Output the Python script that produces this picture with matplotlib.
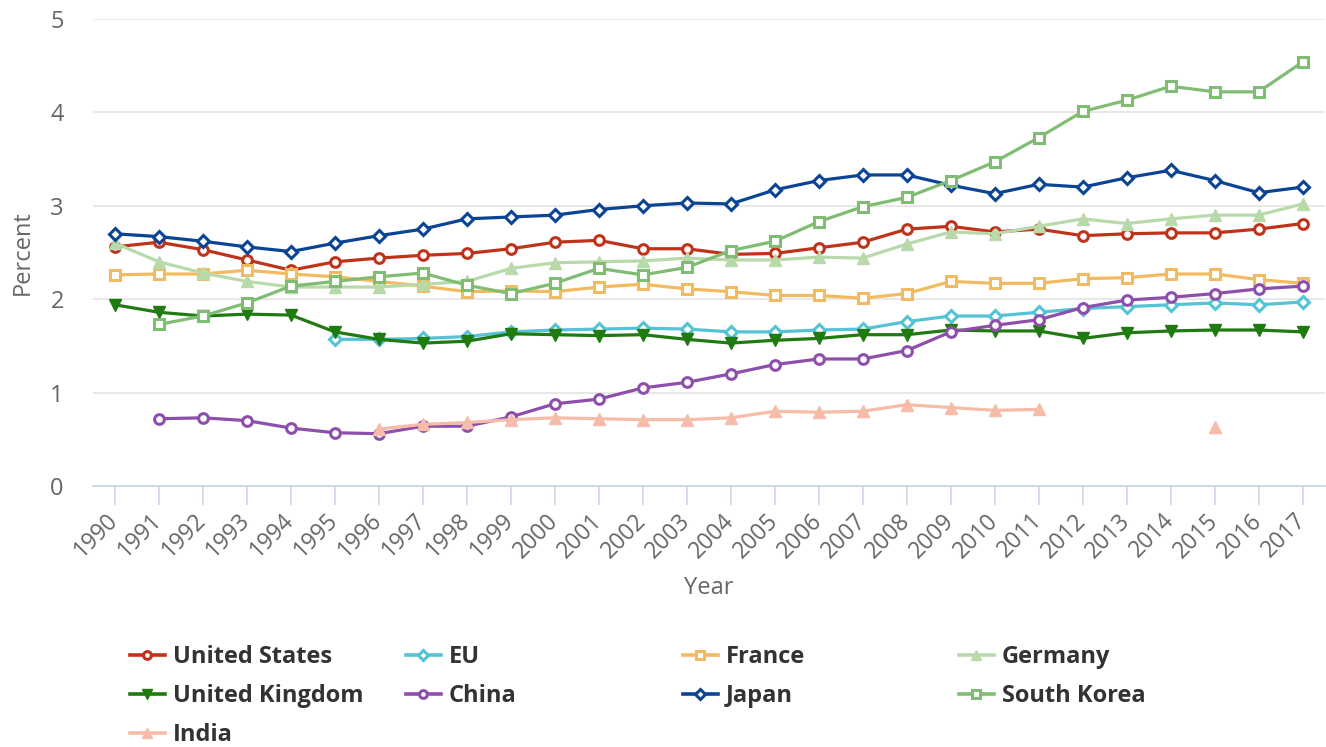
import matplotlib.pyplot as plt
import numpy as np
from matplotlib.lines import Line2D

years = list(range(1990, 2018))

# R&D expenditure as share of GDP (None = no data)
united_states = [2.56, 2.61, 2.53, 2.42, 2.31, 2.40, 2.44, 2.47, 2.49, 2.54, 2.61, 2.63, 2.54, 2.54,
                 2.48, 2.49, 2.55, 2.61, 2.75, 2.78, 2.72, 2.75, 2.68, 2.70, 2.71, 2.71, 2.75, 2.81]
eu = [None] * 5 + [1.57, 1.57, 1.58, 1.60, 1.65, 1.67, 1.68, 1.69, 1.68, 1.65, 1.65, 1.67, 1.68,
                   1.76, 1.82, 1.82, 1.86, 1.90, 1.92, 1.94, 1.96, 1.94, 1.97]
france = [2.26, 2.27, 2.27, 2.31, 2.27, 2.24, 2.19, 2.14, 2.08, 2.09, 2.08, 2.13, 2.16, 2.11,
          2.08, 2.04, 2.04, 2.01, 2.06, 2.19, 2.17, 2.17, 2.22, 2.23, 2.27, 2.27, 2.21, 2.17]
germany = [2.60, 2.40, 2.28, 2.19, 2.13, 2.13, 2.13, 2.16, 2.19, 2.33, 2.39, 2.40, 2.41, 2.44,
           2.42, 2.42, 2.45, 2.44, 2.59, 2.72, 2.70, 2.78, 2.86, 2.81, 2.86, 2.90, 2.90, 3.02]
united_kingdom = [1.94, 1.86, 1.82, 1.84, 1.83, 1.65, 1.57, 1.53, 1.55, 1.63, 1.62, 1.61, 1.62, 1.57,
                  1.53, 1.56, 1.58, 1.62, 1.62, 1.67, 1.66, 1.66, 1.58, 1.64, 1.66, 1.67, 1.67, 1.65]
china = [None] + [0.72, 0.73, 0.70, 0.62, 0.57, 0.56, 0.64, 0.64, 0.74, 0.88, 0.93, 1.05, 1.11,
                  1.20, 1.30, 1.36, 1.36, 1.45, 1.65, 1.72, 1.78, 1.91, 1.99, 2.02, 2.06, 2.11, 2.14]
japan = [2.70, 2.67, 2.62, 2.56, 2.51, 2.60, 2.68, 2.75, 2.86, 2.88, 2.90, 2.96, 3.00, 3.03,
         3.02, 3.17, 3.27, 3.33, 3.33, 3.22, 3.13, 3.23, 3.20, 3.30, 3.38, 3.27, 3.14, 3.20]
south_korea = [None] + [1.73, 1.82, 1.96, 2.14, 2.19, 2.24, 2.28, 2.15, 2.06, 2.17, 2.33, 2.26, 2.34,
                        2.52, 2.62, 2.83, 2.99, 3.09, 3.27, 3.47, 3.73, 4.01, 4.13, 4.28, 4.22, 4.22, 4.54]
india = [None] * 6 + [0.61, 0.66, 0.68, 0.71, 0.73, 0.72, 0.71, 0.71, 0.73, 0.80, 0.79, 0.80,
                      0.87, 0.84, 0.81, 0.82, None, None, None, 0.63, None, None]

plt.rcParams['font.family'] = ['Open Sans', 'DejaVu Sans']

# name, values, colour, marker, hollow marker face
series = [
    ('United States', united_states, '#c0331b', 'o', True),
    ('EU', eu, '#54c3d6', 'D', True),
    ('France', france, '#f2bb5f', 's', True),
    ('Germany', germany, '#b8daab', '^', False),
    ('United Kingdom', united_kingdom, '#1f7a10', 'v', False),
    ('China', china, '#8d4fab', 'o', True),
    ('Japan', japan, '#0b4494', 'D', True),
    ('South Korea', south_korea, '#80bd72', 's', True),
    ('India', india, '#f7bca8', '^', False),
]
marker_size = {'o': 7, 's': 7, 'D': 6, '^': 9, 'v': 9}

fig = plt.figure(figsize=(13.26, 7.47), dpi=100)
ax = fig.add_axes([0.0701, 0.3494, 0.9289, 0.6252])

x = np.array(years, dtype=float)
handles = {}
for name, vals, color, marker, hollow in series:
    y = np.array([np.nan if v is None else v for v in vals], dtype=float)
    face = 'white' if hollow else color
    style = dict(color=color, marker=marker, ms=marker_size[marker], mfc=face, mec=color,
                 mew=2.2 if hollow else 1.0)
    ax.plot(x, y, lw=2.3, zorder=3, **style)
    style['ms'] = style['ms'] * 0.8
    handles[name] = Line2D([], [], lw=2.6, **style)

ax.set_xlim(1989.5, 2017.5)
ax.set_ylim(0, 5)
ax.set_xticks(years)
ax.set_xticklabels([str(yr) for yr in years], rotation=45, ha='right', va='center',
                   rotation_mode='anchor', fontsize=16.5, color='#666666')
ax.set_yticks(range(6))
ax.set_yticklabels([str(v) for v in range(6)], fontsize=17, color='#666666')
ax.tick_params(axis='y', length=0, pad=21)
ax.tick_params(axis='x', length=13.5, width=1.2, color='#ccd6eb', pad=9)
ax.grid(axis='y', color='#e6e6e6', lw=1.3)
ax.set_axisbelow(True)
for side in ('top', 'right', 'left'):
    ax.spines[side].set_visible(False)
ax.spines['bottom'].set_color('#ccd6eb')
ax.spines['bottom'].set_linewidth(1.3)
ax.spines['bottom'].set_zorder(2)

ax.set_ylabel('Percent', fontsize=17, color='#666666')
ax.set_xlabel('Year', fontsize=17, color='#666666')
ax.yaxis.set_label_coords(-0.047, 0.5)
ax.xaxis.set_label_coords(0.5, -0.193)

# legend items laid out row by row in four equal columns
legend_order = ['United States', 'EU', 'France', 'Germany',
                'United Kingdom', 'China', 'Japan', 'South Korea', 'India']
col_x = [0.0980, 0.3062, 0.5151, 0.7232]
row_y = [0.1205, 0.0680, 0.0155]
for i, name in enumerate(legend_order):
    lg = fig.legend([handles[name]], [name], loc='center left',
                    bbox_to_anchor=(col_x[i % 4], row_y[i // 4]), frameon=False,
                    prop={'weight': 'bold', 'size': 17}, handlelength=1.48,
                    handletextpad=0.34, borderpad=0, borderaxespad=0)
    lg.get_texts()[0].set_color('#333333')

fig.savefig('out.png', dpi=100)
